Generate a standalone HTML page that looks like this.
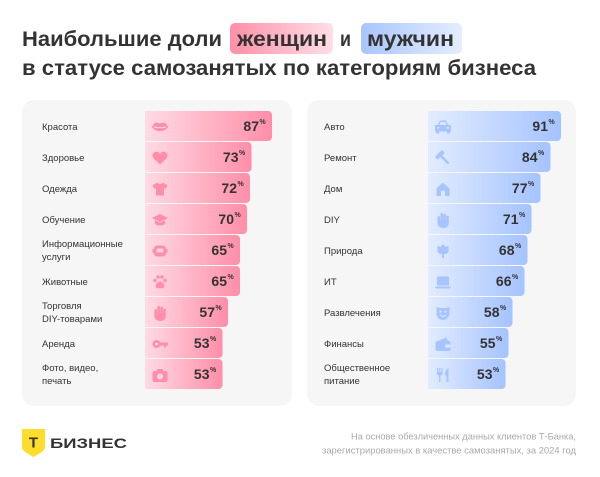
<!DOCTYPE html>
<html><head><meta charset="utf-8"><style>
html,body{margin:0;padding:0;background:#fff;}
svg{display:block;font-family:"Liberation Sans",sans-serif;}
</style></head><body>
<svg width="600" height="477" viewBox="0 0 600 477" xmlns="http://www.w3.org/2000/svg">
<defs>
<linearGradient id="pb" x1="0" y1="0" x2="1" y2="0"><stop offset="0" stop-color="#ffdbe4"/><stop offset="1" stop-color="#ff8ea9"/></linearGradient>
<linearGradient id="bb" x1="0" y1="0" x2="1" y2="0"><stop offset="0" stop-color="#e2ecff"/><stop offset="1" stop-color="#a5c3ff"/></linearGradient>
<linearGradient id="pt" x1="0" y1="0" x2="1" y2="0"><stop offset="0" stop-color="#ff8fa8"/><stop offset="1" stop-color="#ffdfe7"/></linearGradient>
<linearGradient id="bt" x1="0" y1="0" x2="1" y2="0"><stop offset="0" stop-color="#a8c5ff"/><stop offset="1" stop-color="#e5eeff"/></linearGradient>
</defs>
<rect width="600" height="477" fill="#fff"/>

<!-- Title -->
<rect x="230" y="23" width="103" height="31" rx="5" fill="url(#pt)"/>
<rect x="361" y="23" width="101" height="31" rx="5" fill="url(#bt)"/>
<g font-weight="bold" font-size="21" fill="#333">
<text x="22" y="46" textLength="200" lengthAdjust="spacingAndGlyphs">Наибольшие доли</text>
<text x="237" y="46" textLength="90" lengthAdjust="spacingAndGlyphs">женщин</text>
<text x="340" y="46" textLength="11" lengthAdjust="spacingAndGlyphs">и</text>
<text x="367" y="46" textLength="87" lengthAdjust="spacingAndGlyphs">мужчин</text>
<text x="22" y="75" textLength="514" lengthAdjust="spacingAndGlyphs">в статусе самозанятых по категориям бизнеса</text>
</g>

<!-- Panels -->
<rect x="22" y="100" width="270" height="306" rx="12" fill="#f6f6f6"/>
<rect x="307" y="100" width="269" height="306" rx="12" fill="#f6f6f6"/>

<!-- Left bars -->
<g fill="url(#pb)">
<path d="M145,111 h123 a4,4 0 0 1 4,4 v22 a4,4 0 0 1 -4,4 h-123 z"/>
<path d="M145,142 h102.5 a4,4 0 0 1 4,4 v22 a4,4 0 0 1 -4,4 h-102.5 z"/>
<path d="M145,173 h101 a4,4 0 0 1 4,4 v22 a4,4 0 0 1 -4,4 h-101 z"/>
<path d="M145,204 h98 a4,4 0 0 1 4,4 v22 a4,4 0 0 1 -4,4 h-98 z"/>
<path d="M145,235 h91 a4,4 0 0 1 4,4 v22 a4,4 0 0 1 -4,4 h-91 z"/>
<path d="M145,266 h91 a4,4 0 0 1 4,4 v22 a4,4 0 0 1 -4,4 h-91 z"/>
<path d="M145,297 h79 a4,4 0 0 1 4,4 v22 a4,4 0 0 1 -4,4 h-79 z"/>
<path d="M145,328 h73.5 a4,4 0 0 1 4,4 v22 a4,4 0 0 1 -4,4 h-73.5 z"/>
<path d="M145,359 h73.5 a4,4 0 0 1 4,4 v22 a4,4 0 0 1 -4,4 h-73.5 z"/>
</g>
<!-- Right bars -->
<g fill="url(#bb)">
<path d="M428,111 h129 a4,4 0 0 1 4,4 v22 a4,4 0 0 1 -4,4 h-129 z"/>
<path d="M428,142 h118.5 a4,4 0 0 1 4,4 v22 a4,4 0 0 1 -4,4 h-118.5 z"/>
<path d="M428,173 h108.5 a4,4 0 0 1 4,4 v22 a4,4 0 0 1 -4,4 h-108.5 z"/>
<path d="M428,204 h99.5 a4,4 0 0 1 4,4 v22 a4,4 0 0 1 -4,4 h-99.5 z"/>
<path d="M428,235 h95.5 a4,4 0 0 1 4,4 v22 a4,4 0 0 1 -4,4 h-95.5 z"/>
<path d="M428,266 h92.5 a4,4 0 0 1 4,4 v22 a4,4 0 0 1 -4,4 h-92.5 z"/>
<path d="M428,297 h80.5 a4,4 0 0 1 4,4 v22 a4,4 0 0 1 -4,4 h-80.5 z"/>
<path d="M428,328 h76.5 a4,4 0 0 1 4,4 v22 a4,4 0 0 1 -4,4 h-76.5 z"/>
<path d="M428,359 h73.5 a4,4 0 0 1 4,4 v22 a4,4 0 0 1 -4,4 h-73.5 z"/>
</g>

<!-- Left labels -->
<g font-size="9.5" fill="#333">
<text x="42" y="130">Красота</text>
<text x="42" y="161">Здоровье</text>
<text x="42" y="192">Одежда</text>
<text x="42" y="223">Обучение</text>
<text x="42" y="247">Информационные</text>
<text x="42" y="260">услуги</text>
<text x="42" y="285">Животные</text>
<text x="42" y="309">Торговля</text>
<text x="42" y="322">DIY-товарами</text>
<text x="42" y="347">Аренда</text>
<text x="42" y="371">Фото, видео,</text>
<text x="42" y="384">печать</text>
</g>
<!-- Right labels -->
<g font-size="9.5" fill="#333">
<text x="324" y="130">Авто</text>
<text x="324" y="161">Ремонт</text>
<text x="324" y="192">Дом</text>
<text x="324" y="223">DIY</text>
<text x="324" y="254">Природа</text>
<text x="324" y="285">ИТ</text>
<text x="324" y="316">Развлечения</text>
<text x="324" y="347">Финансы</text>
<text x="324" y="371">Общественное</text>
<text x="324" y="384">питание</text>
</g>

<!-- Values -->
<g font-weight="bold" fill="#333">
<g font-size="14" text-anchor="end">
<text x="259" y="131">87</text>
<text x="238.5" y="162">73</text>
<text x="237" y="193">72</text>
<text x="234" y="224">70</text>
<text x="227" y="255">65</text>
<text x="227" y="286">65</text>
<text x="215" y="317">57</text>
<text x="209.5" y="348">53</text>
<text x="209.5" y="379">53</text>
<text x="548" y="131">91</text>
<text x="537.5" y="162">84</text>
<text x="527.5" y="193">77</text>
<text x="518.5" y="224">71</text>
<text x="514.5" y="255">68</text>
<text x="511.5" y="286">66</text>
<text x="499.5" y="317">58</text>
<text x="495.5" y="348">55</text>
<text x="492.5" y="379">53</text>
</g>
<g font-size="7">
<text x="259.5" y="124">%</text>
<text x="239" y="155">%</text>
<text x="237.5" y="186">%</text>
<text x="234.5" y="217">%</text>
<text x="227.5" y="248">%</text>
<text x="227.5" y="279">%</text>
<text x="215.5" y="310">%</text>
<text x="210" y="341">%</text>
<text x="210" y="372">%</text>
<text x="548.5" y="124">%</text>
<text x="538" y="155">%</text>
<text x="528" y="186">%</text>
<text x="519" y="217">%</text>
<text x="515" y="248">%</text>
<text x="512" y="279">%</text>
<text x="500" y="310">%</text>
<text x="496" y="341">%</text>
<text x="493" y="372">%</text>
</g>
</g>

<!-- Left icons -->
<g fill="#ff8eaa">
<g transform="translate(152,119)"><path d="M0,8 C2,3 5,2.5 8,5 C11,2.5 14,3 16,8 C13,13.5 3,13.5 0,8Z"/><path d="M2,8 Q8,9.5 14,8" stroke="#ffd3dd" stroke-width="1" fill="none"/></g>
<g transform="translate(152,150)"><path d="M8,14.5 L1.6,8.4 C-0.6,6 0.6,1.8 4.4,1.8 C6,1.8 7.3,2.8 8,4 C8.7,2.8 10,1.8 11.6,1.8 C15.4,1.8 16.6,6 14.4,8.4 Z"/></g>
<g transform="translate(152,181)"><path d="M5,1.5 L0.5,4.5 L2.5,8 L4,7.2 L4,14.5 L12,14.5 L12,7.2 L13.5,8 L15.5,4.5 L11,1.5 C10,3.5 6,3.5 5,1.5Z"/></g>
<g transform="translate(152,212)"><path d="M8,2 L16,6 L8,10 L0,6Z"/><path d="M3,8.2 L8,10.8 L13,8.2 L13,12 C11,14 5,14 3,12Z"/></g>
<g transform="translate(152,243)"><rect x="2" y="2.5" width="12" height="11" rx="3"/><rect x="4.5" y="5.5" width="7" height="4" rx="1.5" fill="#ffd3dd"/><rect x="0.5" y="6" width="2" height="4" rx="1"/><rect x="13.5" y="6" width="2" height="4" rx="1"/></g>
<g transform="translate(152,274)"><circle cx="3" cy="6.5" r="1.7"/><circle cx="6" cy="3" r="1.7"/><circle cx="10" cy="3" r="1.7"/><circle cx="13" cy="6.5" r="1.7"/><path d="M8,7.5 C5,7.5 3,11 4,13 C5,15 7,14 8,14 C9,14 11,15 12,13 C13,11 11,7.5 8,7.5Z"/></g>
<g transform="translate(152,305)"><rect x="2.5" y="4" width="2.6" height="8" rx="1.3"/><rect x="5.4" y="1" width="2.6" height="9" rx="1.3"/><rect x="8.3" y="1.5" width="2.6" height="9" rx="1.3"/><rect x="11.2" y="3.5" width="2.6" height="8" rx="1.3"/><path d="M2.5,8 L13.8,8 L13.8,11 C13.8,14 11.5,16 8.5,16 C5,16 2.5,14 2.5,11Z"/></g>
<g transform="translate(152,336)"><circle cx="4.5" cy="8" r="4"/><circle cx="4.5" cy="8" r="1.5" fill="#ffd3dd"/><rect x="7" y="6.5" width="9" height="3"/><rect x="12" y="8" width="2" height="3.5"/></g>
<g transform="translate(152,367)"><rect x="0.5" y="4" width="15" height="11" rx="2"/><rect x="5" y="2" width="6" height="3" rx="1"/><circle cx="8" cy="9.5" r="3" fill="#ffd3dd"/></g>
</g>

<!-- Right icons -->
<g fill="#a7c4ff">
<g transform="translate(435,119)"><path d="M3,6 L4.5,2.5 C4.8,1.8 5.3,1.5 6,1.5 L10,1.5 C10.7,1.5 11.2,1.8 11.5,2.5 L13,6 L15,6 C15.6,6 16,6.4 16,7 L16,12.5 L0,12.5 L0,7 C0,6.4 0.4,6 1,6 Z"/><rect x="1" y="12" width="3" height="2.5" rx="0.8"/><rect x="12" y="12" width="3" height="2.5" rx="0.8"/><path d="M4.5,6 L5.6,3 L10.4,3 L11.5,6Z" fill="#dbe7ff"/><rect x="2" y="8" width="2.5" height="1.6" rx="0.8" fill="#dbe7ff"/><rect x="11.5" y="8" width="2.5" height="1.6" rx="0.8" fill="#dbe7ff"/></g>
<g transform="translate(435,150)"><g transform="rotate(-45 8 8)"><rect x="6.8" y="5" width="2.4" height="11" rx="1"/><rect x="3" y="1.5" width="10" height="4" rx="1"/></g></g>
<g transform="translate(435,181)"><path d="M1.5,7.5 L8,1.5 L14.5,7.5 L14.5,15 L1.5,15Z"/><path d="M6,15 L6,11.5 A2,2 0 0 1 10,11.5 L10,15Z" fill="#dbe7ff"/></g>
<g transform="translate(435,212)"><rect x="2.5" y="4" width="2.6" height="8" rx="1.3"/><rect x="5.4" y="1" width="2.6" height="9" rx="1.3"/><rect x="8.3" y="1.5" width="2.6" height="9" rx="1.3"/><rect x="11.2" y="3.5" width="2.6" height="8" rx="1.3"/><path d="M2.5,8 L13.8,8 L13.8,11 C13.8,14 11.5,16 8.5,16 C5,16 2.5,14 2.5,11Z"/></g>
<g transform="translate(435,243)"><path d="M8,1 L10.5,4 L13.5,2.5 L13.5,8 C13.5,10 11,11 9,11 L9,15 L7,15 L7,11 C5,11 2.5,10 2.5,8 L2.5,2.5 L5.5,4Z"/></g>
<g transform="translate(435,274)"><rect x="2" y="2.5" width="12" height="9" rx="1"/><path d="M0,12.5 L16,12.5 L15,14.5 L1,14.5Z"/></g>
<g transform="translate(435,305)"><path d="M1.5,2 C5,3.5 11,3.5 14.5,2 L14.5,8 C14.5,12 11.5,15 8,15 C4.5,15 1.5,12 1.5,8Z"/><circle cx="5.5" cy="6.5" r="1.1" fill="#dbe7ff"/><circle cx="10.5" cy="6.5" r="1.1" fill="#dbe7ff"/><path d="M5,10 Q8,13 11,10" stroke="#dbe7ff" stroke-width="1.2" fill="none"/></g>
<g transform="translate(435,336)"><path d="M3,5 L11,1.5 L13,5Z"/><rect x="0.5" y="5" width="15" height="10" rx="2"/><rect x="10" y="8.5" width="5.5" height="3" rx="1" fill="#dbe7ff"/></g>
<g transform="translate(435,367)"><rect x="2" y="1" width="1.2" height="5"/><rect x="4.2" y="1" width="1.2" height="5"/><rect x="6.4" y="1" width="1.2" height="5"/><path d="M2,5 L7.6,5 L7.6,6.5 C7.6,8 6.5,8.5 5.5,8.5 L5.5,15 L4.1,15 L4.1,8.5 C3,8.5 2,8 2,6.5Z"/><path d="M13.5,1 C11,2 10,5 10,8 L11.5,8.5 L11.5,15 L13.5,15Z"/></g>
</g>

<!-- Footer -->
<path d="M22,429 L45,429 L45,446 C45,450 42.5,452 38.5,454 L33.5,457 L28.5,454 C24.5,452 22,450 22,446 Z" fill="#ffdd2d"/>
<text x="33.5" y="447.5" font-size="15" font-weight="bold" fill="#333" text-anchor="middle">Т</text>
<text x="50" y="448" font-size="14" font-weight="bold" fill="#333" textLength="77" lengthAdjust="spacingAndGlyphs">БИЗНЕС</text>
<g font-size="9.5" fill="#a9a9a9" text-anchor="end">
<text x="576" y="439.5" textLength="225" lengthAdjust="spacingAndGlyphs">На основе обезличенных данных клиентов Т-Банка,</text>
<text x="576" y="453.5" textLength="254" lengthAdjust="spacingAndGlyphs">зарегистрированных в качестве самозанятых, за 2024 год</text>
</g>
</svg>
</body></html>
